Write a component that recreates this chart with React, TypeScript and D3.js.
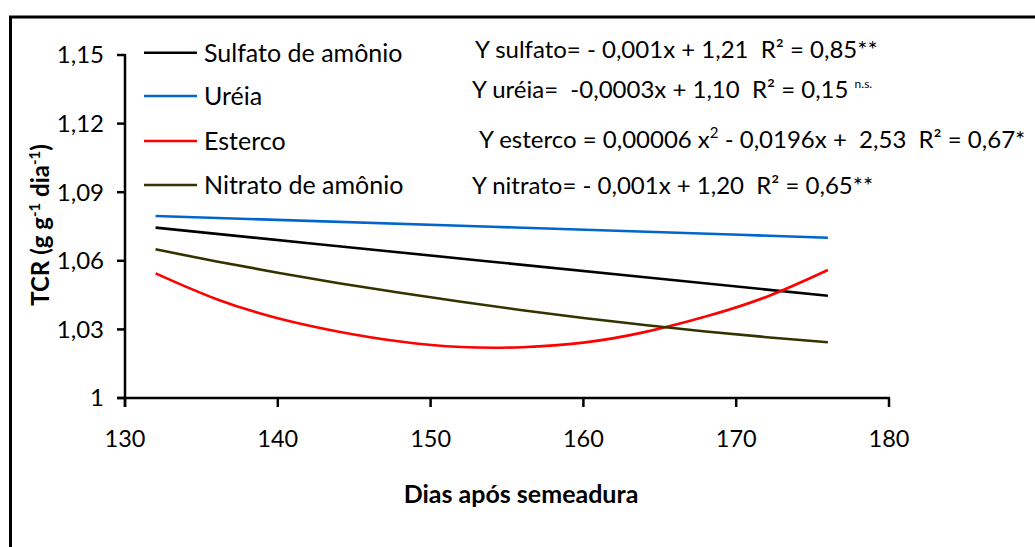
import * as d3 from "d3";
import { useEffect } from "react";

// Dias após semeadura
const dias = [132, 136, 140, 144, 148, 152, 156, 160, 164, 168, 172, 176];
const diasLinear = [132, 154, 176];

// TCR
const sulfato = [1.0745, 1.0596, 1.0447];
const ureia = [1.0796, 1.0749, 1.0701];
const esterco = [1.0545, 1.0432, 1.0349, 1.029, 1.0247, 1.0223, 1.0222, 1.0242, 1.0288, 1.0356, 1.0443, 1.056];
const nitrato = [1.065, 1.0597, 1.0548, 1.0502, 1.046, 1.0421, 1.0384, 1.035, 1.0319, 1.0291, 1.0266, 1.0244];

const legendLabels = ["Sulfato de amônio", "Uréia", "Esterco", "Nitrato de amônio"];
const colors = ["#000000", "#0066CC", "#FF0000", "#333300"];

const xTicks = [130, 140, 150, 160, 170, 180];
const yTicks = [1, 1.03, 1.06, 1.09, 1.12, 1.15];

const FONT = "Lato, 'Open Sans', sans-serif";

export default function App() {
  // sem margem nem barras de rolagem
  useEffect(() => {
    document.body.style.margin = "0";
    document.body.style.overflow = "hidden";
    document.documentElement.style.overflow = "hidden";
  }, []);

  const margin = { left: 125, right: 146, top: 55, bottom: 149 };
  const width = 1035;
  const height = 547;

  const x = d3.scaleLinear().domain([130, 180]).range([margin.left, width - margin.right]);
  const y = d3.scaleLinear().domain([1, 1.15]).range([height - margin.bottom, margin.top]);

  const line = d3
    .line<[number, number]>()
    .x((d) => x(d[0]))
    .y((d) => y(d[1]))
    .curve(d3.curveNatural);

  const series = [
    diasLinear.map((d, i) => [d, sulfato[i]] as [number, number]),
    diasLinear.map((d, i) => [d, ureia[i]] as [number, number]),
    dias.map((d, i) => [d, esterco[i]] as [number, number]),
    dias.map((d, i) => [d, nitrato[i]] as [number, number]),
  ];

  const fmt = (v: number) => (v === 1 ? "1" : d3.format(".2f")(v).replace(".", ","));

  const legendY = [52.7, 96, 141, 185];
  const eqStyle = { fontFamily: FONT, fontSize: 24, fill: "#000", whiteSpace: "pre" as const };

  return (
    <svg width={width} height={height} style={{ position: "absolute", left: 0, top: 0, display: "block" }}>
      <rect x={0} y={0} width={width} height={height} fill="#fff" />
      <path d={`M10.5,${height + 5} V17 H${width + 5}`} fill="none" stroke="#000" strokeWidth={3} />

      {/* eixo Y */}
      <line x1={x(130)} x2={x(130)} y1={y(1.15) - 1} y2={y(1) + 9} stroke="#000" strokeWidth={2.5} />
      {yTicks.map((t) => (
        <g key={t}>
          <line x1={x(130) - 8} x2={x(130)} y1={y(t)} y2={y(t)} stroke="#000" strokeWidth={2.5} />
          <text x={x(130) - 21} y={y(t)} dy="0.35em" textAnchor="end" fontFamily={FONT} fontSize={24}>
            {fmt(t)}
          </text>
        </g>
      ))}

      {/* eixo X */}
      <line x1={x(130) - 8} x2={x(180) + 1} y1={y(1)} y2={y(1)} stroke="#000" strokeWidth={2.5} />
      {xTicks.map((t) => (
        <g key={t}>
          <line x1={x(t)} x2={x(t)} y1={y(1)} y2={y(1) + 9} stroke="#000" strokeWidth={2.5} />
          <text x={x(t)} y={447} textAnchor="middle" fontFamily={FONT} fontSize={23.5}>
            {t}
          </text>
        </g>
      ))}

      <text x={521} y={503} textAnchor="middle" fontFamily={FONT} fontSize={25} fontWeight="bold">
        Dias após semeadura
      </text>
      <text
        transform="translate(49,225) rotate(-90)"
        textAnchor="middle"
        fontFamily={FONT}
        fontSize={24}
        fontWeight="bold"
      >
        TCR (g g<tspan dy={-9} fontSize={15}>-1</tspan>
        <tspan dy={9}> dia</tspan>
        <tspan dy={-9} fontSize={15}>-1</tspan>
        <tspan dy={9}>)</tspan>
      </text>

      {/* curvas */}
      {series.map((s, i) => (
        <path key={i} d={line(s) || ""} fill="none" stroke={colors[i]} strokeWidth={2.6} />
      ))}

      {/* legenda */}
      {legendLabels.map((lab, i) => (
        <g key={lab}>
          <line x1={144} x2={197} y1={legendY[i]} y2={legendY[i]} stroke={colors[i]} strokeWidth={2.6} />
          <text x={204} y={legendY[i] + 9} fontFamily={FONT} fontSize={25}>
            {lab}
          </text>
        </g>
      ))}

      {/* equações */}
      <text x={475} y={58} style={eqStyle}>
        {"Y sulfato= - 0,001x + 1,21  R² = 0,85**"}
      </text>
      <text x={472} y={98} style={eqStyle}>
        {"Y uréia=  -0,0003x + 1,10  R² = 0,15 "}
        <tspan dy={-10} fontSize={12}>n.s.</tspan>
      </text>
      <text x={479} y={148} style={eqStyle}>
        {"Y esterco = 0,00006 x"}
        <tspan dy={-10} fontSize={15}>2</tspan>
        <tspan dy={10}>{" - 0,0196x +  2,53  R² = 0,67*"}</tspan>
      </text>
      <text x={472} y={194} style={eqStyle}>
        {"Y nitrato= - 0,001x + 1,20  R² = 0,65**"}
      </text>
    </svg>
  );
}
